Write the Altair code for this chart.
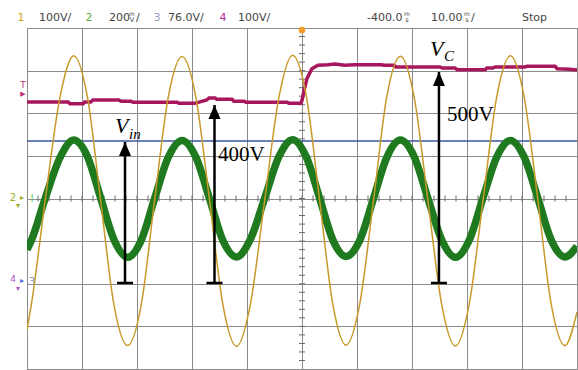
import altair as alt
import pandas as pd

# ---------------- waveform data ----------------
# time in ms relative to screen centre (10 ms/div), amplitude in screen divisions
t_wave = [-50.0, -49.2, -46.7, -44.0, -41.5, -39.0, -36.6, -34.2, -31.7, -29.2,
          -26.8, -24.3, -21.8, -19.3, -16.8, -14.4, -11.9, -9.4, -6.8, -4.2,
          -1.7, 0.8, 3.2, 5.6, 8.0, 10.5, 13.0, 15.4, 17.9, 20.4,
          22.9, 25.4, 27.9, 30.4, 32.9, 35.4, 37.9, 40.4, 42.9, 45.3,
          47.8, 50.0]

# channel 1 (line voltage)
ch1_div = [-3.08, -2.48, -0.05, 2.38, 3.35, 2.37, -0.06, -2.49, -3.45, -2.47,
           -0.04, 2.39, 3.33, 2.38, -0.05, -2.48, -3.47, -2.49, -0.06, 2.37,
           3.36, 2.39, -0.04, -2.48, -3.44, -2.47, -0.05, 2.38, 3.34, 2.37,
           -0.05, -2.49, -3.46, -2.48, -0.06, 2.38, 3.35, 2.38, -0.05, -2.47,
           -3.45, -2.66]

# channel 2 (input voltage V_in)
ch2_div = [-1.20, -0.98, 0.00, 0.96, 1.37, 0.98, 0.01, -0.96, -1.38, -0.97,
           0.00, 0.97, 1.36, 0.97, -0.01, -0.98, -1.37, -0.96, 0.00, 0.98,
           1.38, 0.97, 0.01, -0.97, -1.36, -0.98, 0.00, 0.96, 1.37, 0.98,
           0.00, -0.97, -1.38, -0.98, 0.01, 0.97, 1.36, 0.97, 0.00, -0.97,
           -1.37, -1.12]

# channel 4 (capacitor voltage V_C): 400 V stepping up to 500 V at t = 0
t_ch4 = [-50.0, -42.5, -42.2, -39.8, -39.5, -38.4, -38.0, -33.3, -32.9, -31.1,
         -30.7, -22.7, -22.4, -19.5, -17.3, -16.9, -15.8, -15.5, -12.7, -12.4,
         -10.5, -10.2, -2.7, -2.4, -0.2, 0.0, 0.4, 0.9, 1.8, 2.9,
         4.7, 6.0, 7.8, 9.6, 14.5, 14.9, 16.7, 17.1, 25.1, 25.5,
         27.8, 28.2, 33.3, 33.6, 34.7, 35.1, 40.5, 40.9, 46.0, 46.4,
         48.7, 50.0]
ch4_div = [2.264, 2.264, 2.224, 2.224, 2.264, 2.264, 2.311, 2.311, 2.280, 2.280,
           2.257, 2.257, 2.233, 2.233, 2.311, 2.358, 2.358, 2.327, 2.327, 2.280,
           2.280, 2.257, 2.257, 2.233, 2.233, 2.300, 2.550, 2.811, 3.045, 3.125,
           3.139, 3.155, 3.125, 3.139, 3.139, 3.125, 3.125, 3.085, 3.085, 3.062,
           3.062, 3.022, 3.022, 3.062, 3.062, 3.085, 3.085, 3.101, 3.101, 3.045,
           3.030, 3.015]

# channel 3 (flat trace)
ch3_div = [1.349]

# measurement arrows: time position, foot and tip (divisions)
arrow_t = [-32.18, -15.91, 24.9]
arrow_base = [-1.982, -1.982, -1.982]
arrow_tip = [1.326, 2.194, 2.968]

# ---------------- graticule ----------------
grid_t = [-50, -40, -30, -20, -10, 0, 10, 20, 30, 40, 50]
grid_v = [-4, -3, -2, -1, 0, 1, 2, 3, 4]
minor_t = [x / 10 for x in range(-480, 481, 20)]
minor_v = [x / 10 for x in range(-38, 39, 2)]

W, H = 550, 341
xs = alt.Scale(domain=[-50, 50], nice=False, zero=False)
ys = alt.Scale(domain=[-4, 4], nice=False, zero=False)
x_axis = alt.Axis(values=grid_t, title=None)
y_axis = alt.Axis(values=grid_v, title=None)


def X(f):
    return alt.X(f"{f}:Q", scale=xs, axis=x_axis)


def Y(f):
    return alt.Y(f"{f}:Q", scale=ys, axis=y_axis)


waves = pd.DataFrame({"t": t_wave, "ch1": ch1_div, "ch2": ch2_div})
ch4 = pd.DataFrame({"t": t_ch4, "v": ch4_div})
arrows = pd.DataFrame({"t": arrow_t, "base": arrow_base, "tip": arrow_tip})

frame = alt.Chart(pd.DataFrame({"t": [0.0], "v": [0.0]})).mark_point(opacity=0).encode(
    x=X("t"), y=Y("v"))

ticks_h = alt.Chart(pd.DataFrame({"t": minor_t, "v": [0.0] * len(minor_t)})).mark_tick(
    orient="vertical", size=6, thickness=1, color="#6a6a6a", opacity=1).encode(x=X("t"), y=Y("v"))
ticks_v = alt.Chart(pd.DataFrame({"t": [0.0] * len(minor_v), "v": minor_v})).mark_tick(
    orient="horizontal", size=6, thickness=1, color="#6a6a6a", opacity=1).encode(x=X("t"), y=Y("v"))

blue = alt.Chart(pd.DataFrame({"v": ch3_div})).mark_rule(
    color="#3b55a3", strokeWidth=1.3).encode(y=Y("v"))

green = alt.Chart(waves).mark_line(
    color="#1f7a1f", strokeWidth=7.5, interpolate="monotone", clip=True).encode(x=X("t"), y=Y("ch2"))

magenta = alt.Chart(ch4).mark_line(
    color="#a8175e", strokeWidth=3.5, clip=True).encode(x=X("t"), y=Y("v"))

orange = alt.Chart(waves).mark_line(
    color="#c79a28", strokeWidth=1.5, interpolate="monotone", clip=True).encode(x=X("t"), y=Y("ch1"))

arrow_shaft = alt.Chart(arrows).mark_rule(color="black", strokeWidth=2.5).encode(
    x=X("t"), y=Y("base"), y2="tip:Q")
arrow_foot = alt.Chart(arrows).mark_tick(
    orient="horizontal", size=16, thickness=2.5, color="black", opacity=1).encode(x=X("t"), y=Y("base"))
arrow_head = alt.Chart(arrows).mark_point(
    shape="M0,0L-0.43,1L0.43,1Z", filled=True, size=784, color="black", opacity=1,
    strokeWidth=0).encode(x=X("t"), y=Y("tip"))

layers = [frame, ticks_h, ticks_v, blue, green, magenta, orange,
          arrow_shaft, arrow_foot, arrow_head]


def label(text, x, y, size, color="black", font="Liberation Serif", style="normal",
          align="left", baseline="alphabetic", weight="normal"):
    return alt.Chart(pd.DataFrame({"s": [text]})).mark_text(
        font=font, fontSize=size, fontStyle=style, fontWeight=weight, color=color,
        align=align, baseline=baseline).encode(
        x=alt.value(x), y=alt.value(y), text="s:N")


# annotation text
layers += [
    label("V", 88, 105, 22, style="italic"),
    label("in", 102, 111, 15, style="italic"),
    label("400V", 191, 133, 21),
    label("500V", 420, 93, 21),
    label("V", 403, 28, 22, style="italic"),
    label("C", 417, 33, 15, style="italic"),
]

# status line above the graticule
hdr_font = "DejaVu Sans"
hdr_col = "#444444"
hy = -10.5
header = [
    ("1", -6, "#d9a21b", "center"),
    ("100V/", 12, hdr_col, "left"),
    ("2", 62, "#5bb040", "center"),
    ("200", 82, hdr_col, "left"),
    ("/", 109, hdr_col, "left"),
    ("3", 130, "#9a9cc0", "center"),
    ("76.0V/", 141, hdr_col, "left"),
    ("4", 196, "#b0309a", "center"),
    ("100V/", 211, hdr_col, "left"),
    ("-400.0", 340, hdr_col, "left"),
    ("10.00", 404, hdr_col, "left"),
    ("/", 444, hdr_col, "left"),
    ("Stop", 495, hdr_col, "left"),
]
for s, x, c, a in header:
    layers.append(label(s, x, hy, 11, color=c, font=hdr_font, align=a, baseline="middle"))

# stacked unit glyphs
stacked = [("m", 105, "V"), ("m", 380, "s"), ("m", 440, "s")]
for top, x, bot in stacked:
    layers.append(label(top, x, -14.5, 6, color=hdr_col, font=hdr_font, align="center", baseline="middle"))
    layers.append(label(bot, x, -8, 6.5, color=hdr_col, font=hdr_font, align="center", baseline="middle"))

# channel markers on the left edge
layers += [
    label("T", -4, 57, 9, color="#c0307a", font=hdr_font, align="center", baseline="middle"),
    label("\u25b6", -4, 66, 7, color="#c0307a", font=hdr_font, align="center", baseline="middle"),
    label("2", -14, 170, 10, color="#9aae1c", font=hdr_font, align="center", baseline="middle"),
    label("\u25b8", -5, 170, 8, color="#9aae1c", font=hdr_font, align="center", baseline="middle"),
    label("\u25be", -9, 178, 8, color="#9aae1c", font=hdr_font, align="center", baseline="middle"),
    label("I", 5, 171, 11, color="#7cc47c", font=hdr_font, align="center", baseline="middle"),
    label("4", -14, 251, 9, color="#b050c8", font=hdr_font, align="center", baseline="middle"),
    label("\u25b8", -5, 253, 8, color="#5070e0", font=hdr_font, align="center", baseline="middle"),
    label("\u25be", -9, 261, 8, color="#b050c8", font=hdr_font, align="center", baseline="middle"),
    label("3", 5, 254, 11, color="#9098c0", font=hdr_font, align="center", baseline="middle"),
]

# trigger position marker
trig = alt.Chart(pd.DataFrame({"s": ["trig"]})).mark_point(
    shape="circle", filled=True, size=45, color="#f39c2c", opacity=1).encode(
    x=alt.value(275), y=alt.value(2))
layers.append(trig)

chart = alt.layer(*layers).properties(
    width=W, height=H,
    autosize=alt.AutoSizeParams(type="none"),
    padding={"left": 27, "top": 28, "right": 1, "bottom": 1},
    background="white",
).configure_view(
    stroke="#555555", strokeWidth=1
).configure_axis(
    grid=True, gridColor="#8a8a8a", gridWidth=1, gridOpacity=1,
    labels=False, ticks=False, domain=False,
)

chart.save("out.html", embed_options={"renderer": "svg", "actions": False})
